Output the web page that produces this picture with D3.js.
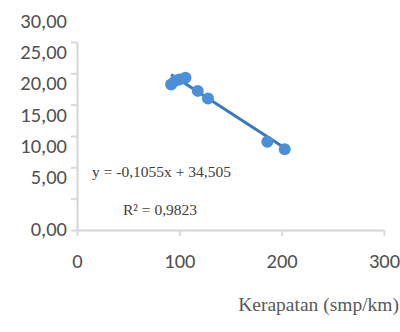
<!DOCTYPE html>
<html>
<head>
<meta charset="utf-8">
<script src="https://cdn.jsdelivr.net/npm/d3@7"></script>
<style>
  body { margin: 0; background: #fff; }
  svg { display: block; }
</style>
</head>
<body>
<svg id="chart"></svg>
<script>
// density (smp/km) vs speed
const kerapatan = [92, 96, 100, 106, 118, 128, 186, 203];
const kecepatan = [23.2, 23.8, 24.0, 24.3, 22.2, 21.0, 14.1, 12.9];
const yTicks = [0, 5, 10, 15, 20, 25, 30];
const xTicks = [0, 100, 200, 300];
const trend = { slope: -0.1055, intercept: 34.505 };
const eqText = 'y = -0,1055x + 34,505';
const r2Text = 'R² = 0,9823';
const xTitle = 'Kerapatan (smp/km)';

const width = 400, height = 332;
const svg = d3.select('#chart').attr('width', width).attr('height', height);

const xscale = d3.scaleLinear().domain([0, 300]).range([77, 384]);
const yscale = d3.scaleLinear().domain([0, 30]).range([230, 42]);

const fmt = d => d3.format('.2f')(d).replace('.', ',');
const axisFont = 'Carlito, Lato, sans-serif';

// y axis
const yaxis = d3.axisLeft(yscale).tickValues(yTicks).tickSize(6).tickPadding(5)
    .tickFormat(fmt).tickSizeOuter(0);
const yg = svg.append('g').attr('transform', 'translate(77,0)').call(yaxis);
yg.select('.domain').attr('stroke', '#d4d4d4').attr('stroke-width', 2);
yg.selectAll('.tick line').attr('stroke', '#d9d9d9').attr('stroke-width', 2);
yg.selectAll('.tick text')
    .attr('font-family', axisFont).attr('font-size', 20.5).attr('fill', '#505050')
    .attr('x', -10)
    .attr('dy', d => d === 0 ? '0.25em' : '-0.72em');

// x axis
const xaxis = d3.axisBottom(xscale).tickValues(xTicks).tickSize(6).tickPadding(17)
    .tickSizeOuter(0);
const xg = svg.append('g').attr('transform', 'translate(0,230)').call(xaxis);
xg.select('.domain').attr('stroke', '#d4d4d4').attr('stroke-width', 2);
xg.selectAll('.tick line').attr('stroke', '#d9d9d9').attr('stroke-width', 2);
xg.selectAll('.tick text')
    .attr('font-family', axisFont).attr('font-size', 20.5).attr('fill', '#505050');

// trend line
const xr = d3.extent(kerapatan);
svg.append('line')
    .attr('x1', xscale(xr[0])).attr('y1', yscale(trend.slope * xr[0] + trend.intercept))
    .attr('x2', xscale(xr[1])).attr('y2', yscale(trend.slope * xr[1] + trend.intercept))
    .attr('stroke', '#3a78c0').attr('stroke-width', 3);

// points
const pts = kerapatan.map((k, i) => ({ x: k, y: kecepatan[i] }));
svg.selectAll('.pt')
    .data(pts)
    .join('circle')
    .attr('class', 'pt')
    .attr('cx', d => xscale(d.x))
    .attr('cy', d => yscale(d.y))
    .attr('r', 6)
    .attr('fill', '#4a8fd8');

// labels
const serif = '"Liberation Serif", "Times New Roman", serif';
svg.append('text')
    .attr('x', 92).attr('y', 177)
    .attr('font-family', serif).attr('font-size', 15.5).attr('fill', '#404040')
    .text(eqText);

svg.append('text')
    .attr('x', 123).attr('y', 215)
    .attr('font-family', serif).attr('font-size', 15.5).attr('fill', '#404040')
    .text(r2Text);

svg.append('text')
    .attr('x', 399).attr('y', 311)
    .attr('text-anchor', 'end')
    .attr('font-family', serif).attr('font-size', 19.5).attr('fill', '#595959')
    .text(xTitle);
</script>
</body>
</html>
